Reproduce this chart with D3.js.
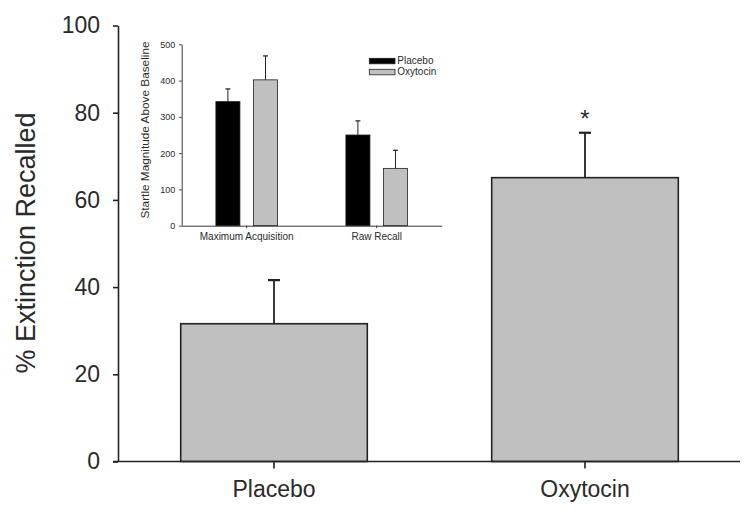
<!DOCTYPE html>
<html>
<head>
<meta charset="utf-8">
<script src="https://cdn.jsdelivr.net/npm/d3@7"></script>
<style>
  body { margin: 0; background: #fff; }
  text { font-family: Arial, "Liberation Sans", sans-serif; fill: #2a2a2a; }
</style>
</head>
<body>
<div id="chart"></div>
<script>
// main chart: % extinction recalled
const groups = ["Placebo", "Oxytocin"];
const recalled = [31.6, 65.1];
const recalled_err = [10.0, 10.3];
const recalled_ticks = [0, 20, 40, 60, 80, 100];
const marked = ["Oxytocin"];

// inset: startle magnitude
const phases = ["Maximum Acquisition", "Raw Recall"];
const startle_placebo = [342, 250];
const startle_placebo_err = [35, 39];
const startle_oxytocin = [402, 158];
const startle_oxytocin_err = [66, 50];
const startle_ticks = [0, 100, 200, 300, 400, 500];

const width = 752, height = 522;
const bar_gray = "#c0c0c0";
const ink = "#222";
const text_ink = "#2a2a2a";

const svg = d3.select("#chart")
  .append("svg")
    .attr("width", width)
    .attr("height", height);

// ---- main chart ----
const x = d3.scaleBand()
  .domain(groups)
  .range([118.5, 740.5])
  .paddingInner(0.4)
  .paddingOuter(0.2);
const y = d3.scaleLinear()
  .domain([0, 100])
  .range([461.5, 25.5]);

const main = svg.append("g");

main.selectAll("rect.bar")
  .data(groups)
  .enter()
  .append("rect")
    .classed("bar", true)
    .attr("x", d => x(d))
    .attr("y", (d, i) => y(recalled[i]))
    .attr("width", x.bandwidth())
    .attr("height", (d, i) => y(0) - y(recalled[i]))
    .attr("fill", bar_gray)
    .attr("stroke", ink)
    .attr("stroke-width", 1.6);

const err = main.selectAll("g.err")
  .data(groups)
  .enter()
  .append("g")
    .classed("err", true);
err.append("line")
  .attr("x1", d => x(d) + x.bandwidth() / 2)
  .attr("x2", d => x(d) + x.bandwidth() / 2)
  .attr("y1", (d, i) => y(recalled[i]))
  .attr("y2", (d, i) => y(recalled[i] + recalled_err[i]))
  .attr("stroke", ink)
  .attr("stroke-width", 1.8);
err.append("line")
  .attr("x1", d => x(d) + x.bandwidth() / 2 - 6)
  .attr("x2", d => x(d) + x.bandwidth() / 2 + 6)
  .attr("y1", (d, i) => y(recalled[i] + recalled_err[i]))
  .attr("y2", (d, i) => y(recalled[i] + recalled_err[i]))
  .attr("stroke", ink)
  .attr("stroke-width", 2.2);

main.selectAll("text.star")
  .data(groups.filter(d => marked.includes(d)))
  .enter()
  .append("text")
    .classed("star", true)
    .attr("x", d => x(d) + x.bandwidth() / 2)
    .attr("y", d => y(recalled[groups.indexOf(d)] + recalled_err[groups.indexOf(d)]) - 6)
    .attr("text-anchor", "middle")
    .attr("font-size", "24px")
    .text("*");

const y_axis = main.append("g")
  .attr("transform", "translate(118,0)")
  .call(d3.axisLeft(y).tickValues(recalled_ticks).tickSize(5).tickPadding(13).tickSizeOuter(0));
y_axis.select(".domain").attr("stroke", ink).attr("stroke-width", 1.6);
y_axis.selectAll(".tick line").attr("stroke", ink).attr("stroke-width", 1.6);
y_axis.selectAll(".tick text")
  .attr("font-size", "23px")
  .attr("font-family", "Arial, 'Liberation Sans', sans-serif")
  .attr("fill", text_ink);

const x_axis = main.append("g")
  .attr("transform", "translate(0,461.5)")
  .call(d3.axisBottom(x).tickSize(7).tickPadding(12).tickSizeOuter(0));
x_axis.select(".domain").remove();
x_axis.append("line")
  .attr("x1", 113).attr("x2", 740)
  .attr("stroke", ink).attr("stroke-width", 1.6);
x_axis.selectAll(".tick line").attr("stroke", ink).attr("stroke-width", 1.6);
x_axis.selectAll(".tick text")
  .attr("font-size", "23px")
  .attr("font-family", "Arial, 'Liberation Sans', sans-serif")
  .attr("fill", text_ink);

main.append("text")
  .attr("transform", "translate(35,243) rotate(-90)")
  .attr("text-anchor", "middle")
  .attr("font-size", "27px")
  .text("% Extinction Recalled");

// ---- inset chart ----
const ix = d3.scaleBand()
  .domain(phases)
  .range([181.7, 441.7])
  .paddingInner(0.526)
  .paddingOuter(0.263);
const isub = d3.scaleBand()
  .domain(["Placebo", "Oxytocin"])
  .range([0, ix.bandwidth()])
  .paddingInner(0.36);
const iy = d3.scaleLinear()
  .domain([0, 500])
  .range([225.7, 44.3]);

const inset = svg.append("g");
const series = [
  {name: "Placebo", values: startle_placebo, errs: startle_placebo_err, fill: "#000"},
  {name: "Oxytocin", values: startle_oxytocin, errs: startle_oxytocin_err, fill: bar_gray}
];

series.forEach(s => {
  const g = inset.append("g");
  g.selectAll("rect")
    .data(phases)
    .enter()
    .append("rect")
      .attr("x", d => ix(d) + isub(s.name))
      .attr("y", (d, i) => iy(s.values[i]))
      .attr("width", isub.bandwidth())
      .attr("height", (d, i) => iy(0) - iy(s.values[i]))
      .attr("fill", s.fill)
      .attr("stroke", ink)
      .attr("stroke-width", 0.8);
  g.selectAll("line.stem")
    .data(phases)
    .enter()
    .append("line")
      .classed("stem", true)
      .attr("x1", d => ix(d) + isub(s.name) + isub.bandwidth() / 2)
      .attr("x2", d => ix(d) + isub(s.name) + isub.bandwidth() / 2)
      .attr("y1", (d, i) => iy(s.values[i]))
      .attr("y2", (d, i) => iy(s.values[i] + s.errs[i]))
      .attr("stroke", ink)
      .attr("stroke-width", 1);
  g.selectAll("line.cap")
    .data(phases)
    .enter()
    .append("line")
      .classed("cap", true)
      .attr("x1", d => ix(d) + isub(s.name) + isub.bandwidth() / 2 - 2.5)
      .attr("x2", d => ix(d) + isub(s.name) + isub.bandwidth() / 2 + 2.5)
      .attr("y1", (d, i) => iy(s.values[i] + s.errs[i]))
      .attr("y2", (d, i) => iy(s.values[i] + s.errs[i]))
      .attr("stroke", ink)
      .attr("stroke-width", 1.2);
});

const iy_axis = inset.append("g")
  .attr("transform", "translate(181.7,0)")
  .call(d3.axisLeft(iy).tickValues(startle_ticks).tickSize(2.5).tickPadding(4).tickSizeOuter(0));
iy_axis.select(".domain").attr("stroke", ink).attr("stroke-width", 0.9);
iy_axis.selectAll(".tick line").attr("stroke", ink).attr("stroke-width", 0.9);
iy_axis.selectAll(".tick text")
  .attr("font-size", "9px")
  .attr("font-family", "Arial, 'Liberation Sans', sans-serif")
  .attr("fill", text_ink);

const ix_axis = inset.append("g")
  .attr("transform", "translate(0,225.7)")
  .call(d3.axisBottom(ix).tickSize(2.5).tickPadding(5).tickSizeOuter(0));
ix_axis.select(".domain").attr("stroke", ink).attr("stroke-width", 0.9);
ix_axis.selectAll(".tick line").attr("stroke", ink).attr("stroke-width", 0.9);
ix_axis.selectAll(".tick text")
  .attr("font-size", "10px")
  .attr("font-family", "Arial, 'Liberation Sans', sans-serif")
  .attr("fill", text_ink);

inset.append("text")
  .attr("transform", "translate(148.5,130) rotate(-90)")
  .attr("text-anchor", "middle")
  .attr("font-size", "11.8px")
  .text("Startle Magnitude Above Baseline");

const legend = inset.selectAll("g.legend")
  .data(series)
  .enter()
  .append("g")
    .classed("legend", true)
    .attr("transform", (d, i) => "translate(369.3," + (58.3 + i * 11) + ")");
legend.append("rect")
  .attr("width", 25.7)
  .attr("height", 5.5)
  .attr("fill", d => d.fill)
  .attr("stroke", ink)
  .attr("stroke-width", 0.8);
legend.append("text")
  .attr("x", 28)
  .attr("y", 6)
  .attr("font-size", "10px")
  .text(d => d.name);
</script>
</body>
</html>
